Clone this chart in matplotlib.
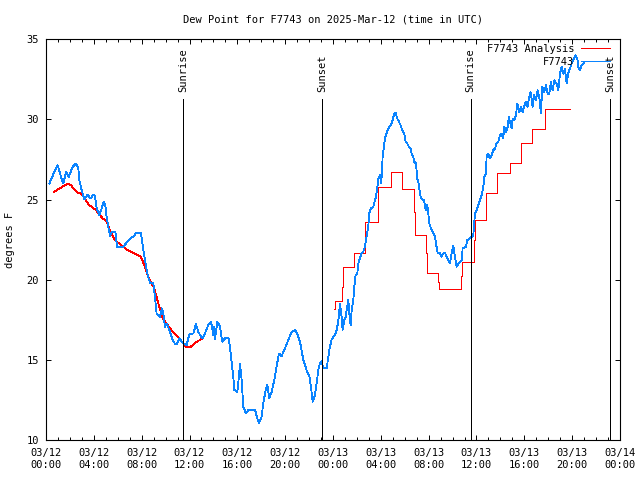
import matplotlib
matplotlib.use("Agg")
import matplotlib.pyplot as plt
import numpy as np

# ---------------- data (hours since 03/12 00:00 UTC) ----------------
blue_t = [0.28, 0.70, 0.98, 1.25, 1.45, 1.67, 1.90, 2.23, 2.51, 2.70,
          2.79, 2.98, 3.21, 3.48, 3.71, 3.99, 4.10, 4.24, 4.46, 4.65,
          4.82, 4.96, 5.07, 5.21, 5.35, 5.49, 5.80, 5.94, 6.41, 6.69,
          7.11, 7.39, 7.53, 7.94, 8.08, 8.28, 8.50, 8.70, 8.97, 9.11,
          9.25, 9.53, 9.70, 9.81, 9.95, 10.09, 10.31, 10.54, 10.79, 10.95,
          11.15, 11.43, 11.76, 11.98, 12.32, 12.54, 12.74, 12.93, 13.10, 13.29,
          13.57, 13.80, 13.99, 14.07, 14.13, 14.33, 14.55, 14.74, 14.97, 15.25,
          15.38, 15.52, 15.66, 15.75, 16.00, 16.17, 16.22, 16.36, 16.50, 16.72,
          16.92, 17.47, 17.67, 17.81, 18.03, 18.17, 18.36, 18.51, 18.67, 18.87,
          19.09, 19.28, 19.48, 19.70, 19.98, 20.26, 20.54, 20.82, 21.01, 21.24,
          21.52, 21.79, 22.02, 22.19, 22.30, 22.49, 22.63, 22.77, 22.91, 23.05,
          23.19, 23.47, 23.69, 23.89, 24.16, 24.30, 24.44, 24.50, 24.58, 24.72,
          24.80, 24.94, 25.06, 25.14, 25.28, 25.36, 25.47, 25.56, 25.70, 25.78,
          25.89, 26.03, 26.12, 26.25, 26.39, 26.53, 26.67, 26.81, 26.95, 27.03,
          27.17, 27.37, 27.51, 27.59, 27.70, 27.79, 27.93, 28.01, 28.07, 28.15,
          28.26, 28.34, 28.62, 28.90, 29.13, 29.24, 29.38, 29.52, 29.65, 29.79,
          29.96, 30.07, 30.21, 30.35, 30.49, 30.57, 30.71, 30.80, 30.94, 31.05,
          31.13, 31.22, 31.35, 31.61, 31.75, 31.88, 31.97, 32.05, 32.19, 32.39,
          32.53, 32.61, 32.75, 32.94, 33.08, 33.22, 33.36, 33.64, 33.78, 33.92,
          34.06, 34.20, 34.34, 34.48, 34.76, 34.84, 35.12, 35.23, 35.45, 35.59,
          35.73, 35.81, 35.87, 36.01, 36.15, 36.29, 36.43, 36.57, 36.65, 36.79,
          36.85, 36.98, 37.12, 37.26, 37.40, 37.54, 37.68, 37.82, 37.96, 38.10,
          38.24, 38.32, 38.46, 38.60, 38.71, 38.80, 38.94, 39.02, 39.16, 39.30,
          39.41, 39.58, 39.72, 39.86, 39.97, 40.11, 40.27, 40.38, 40.52, 40.61,
          40.69, 40.80, 40.97, 41.11, 41.25, 41.39, 41.50, 41.67, 41.81, 41.95,
          42.09, 42.22, 42.36, 42.50, 42.70, 42.84, 42.98, 43.12, 43.26, 43.39,
          43.54, 43.67, 43.81, 43.95, 44.09, 44.29, 44.43, 44.51, 44.65, 44.79,
          44.98]
blue_v = [26.0, 26.73, 27.14, 26.42, 26.0, 26.73, 26.42, 27.04, 27.25, 26.94,
          26.21, 25.59, 25.0, 25.32, 25.07, 25.32, 25.17, 24.44, 24.03, 24.44,
          24.86, 24.65, 23.92, 23.30, 22.72, 22.99, 23.0, 22.05, 22.03, 22.26,
          22.63, 22.72, 22.93, 22.9, 22.16, 21.22, 20.29, 19.81, 19.77, 18.94,
          17.90, 17.69, 18.21, 17.90, 17.07, 17.27, 16.86, 16.34, 15.99, 16.0,
          16.34, 16.07, 15.92, 16.59, 16.65, 17.23, 16.75, 16.48, 16.34, 16.65,
          17.17, 17.38, 16.55, 17.07, 16.28, 17.38, 17.07, 16.13, 16.34, 16.40,
          15.82, 14.88, 13.95, 13.12, 13.01, 14.26, 14.78, 13.74, 12.08, 11.66,
          11.87, 11.9, 11.35, 11.04, 11.45, 12.29, 13.08, 13.43, 12.60, 13.01,
          13.74, 14.57, 15.40, 15.24, 15.71, 16.23, 16.75, 16.86, 16.65, 16.13,
          14.99, 14.36, 13.99, 13.12, 12.39, 12.81, 13.53, 14.36, 14.78, 14.93,
          14.47, 14.47, 15.61, 16.28, 16.55, 16.86, 17.38, 17.90, 18.52, 17.69,
          16.86, 17.48, 17.69, 18.10, 18.73, 17.90, 17.17, 18.10, 18.73, 19.56,
          20.29, 20.39, 21.01, 21.33, 21.64, 21.74, 22.05, 22.68, 23.30, 24.13,
          24.44, 24.55, 24.96, 25.17, 25.69, 26.31, 26.52, 26.0, 26.42, 27.66,
          28.29, 28.81, 29.43, 29.74, 30.37, 30.41, 30.05, 29.85, 29.64, 29.33,
          29.12, 28.60, 28.5, 28.29, 28.19, 27.87, 27.66, 27.35, 27.25, 26.31,
          26.11, 25.69, 25.07, 24.97, 24.34, 24.65, 24.13, 23.51, 23.20, 22.88,
          22.68, 22.26, 21.68, 21.68, 21.43, 21.64, 21.68, 21.22, 21.01, 21.64,
          22.14, 21.43, 20.81, 21.01, 21.22, 21.95, 22.05, 22.47, 22.57, 22.68,
          22.78, 23.51, 24.13, 24.34, 24.65, 24.96, 25.27, 25.79, 26.42, 26.63,
          27.77, 27.87, 27.56, 27.77, 28.08, 28.18, 28.50, 28.60, 29.01, 29.12,
          28.81, 29.53, 29.22, 29.53, 30.16, 29.84, 29.43, 30.05, 29.95, 30.26,
          30.99, 30.47, 30.78, 30.47, 30.78, 31.09, 30.78, 31.30, 31.72, 31.30,
          30.78, 31.51, 31.20, 31.82, 31.40, 30.37, 32.03, 31.72, 32.13, 31.61,
          31.61, 32.34, 31.82, 32.44, 32.24, 31.82, 32.86, 33.28, 32.86, 33.17,
          32.24, 32.86, 33.17, 33.48, 33.69, 34.0, 33.80, 33.28, 33.07, 33.38,
          33.52]

# Analysis, first part (smooth)
red1_t = [0.70, 1.25, 1.81, 2.09, 2.37, 2.65, 2.93, 3.34, 3.62, 4.18,
          4.74, 5.02, 5.35, 5.77, 6.27, 6.83, 7.53, 7.94, 8.28, 8.64,
          9.06, 9.39, 9.75, 10.17, 10.59, 11.15, 11.59, 11.76, 12.04, 12.60,
          13.02]
red1_v = [25.48, 25.75, 26.0, 25.9, 25.63, 25.42, 25.38, 24.96, 24.65, 24.34,
          23.82, 23.72, 23.09, 22.47, 22.16, 21.85, 21.60, 21.43, 20.77, 20.02,
          19.46, 18.52, 17.59, 17.17, 16.75, 16.34, 15.92, 15.78, 15.78, 16.13,
          16.30]
# Analysis, second part (hourly steps)
red2_t = [24.11, 24.20, 24.72, 24.80, 25.78, 26.67, 27.79, 28.82, 29.79, 30.78,
          30.82, 31.78, 31.83, 32.80, 32.86, 34.72, 34.76, 35.79, 35.85, 36.77,
          37.74, 38.77, 39.69, 40.67, 41.70, 43.81]
red2_v = [18.2, 18.65, 19.56, 20.8, 21.65, 23.61, 25.79, 26.73, 25.69, 24.2,
          22.78, 21.64, 20.39, 19.87, 19.39, 20.22, 21.08, 22.47, 23.72, 25.42,
          26.63, 27.29, 28.54, 29.43, 30.68, 30.68]

sun_t = [11.48, 23.10, 35.51, 47.18]
sun_lbl = ["Sunrise", "Sunset", "Sunrise", "Sunset"]

xtick_hours = list(range(0, 49, 4))
xtick_lbl = ["03/12\n00:00", "03/12\n04:00", "03/12\n08:00", "03/12\n12:00",
             "03/12\n16:00", "03/12\n20:00", "03/13\n00:00", "03/13\n04:00",
             "03/13\n08:00", "03/13\n12:00", "03/13\n16:00", "03/13\n20:00",
             "03/14\n00:00"]
ytick_vals = [10, 15, 20, 25, 30, 35]

# ---------------- plot ----------------
FONT = "DejaVu Sans Mono"
FS = 7.5
plt.rcParams["font.family"] = FONT
plt.rcParams["font.size"] = FS

fig = plt.figure(figsize=(6.4, 4.8), dpi=100)
ax = fig.add_axes([46/640, 1-440/480, (620-46)/640, (440-39.3)/480])

RED = "#ff0000"
BLUE = "#0a84ff"
LW = 0.6

ax.plot(red1_t, red1_v, color=RED, lw=LW, antialiased=False, label="F7743 Analysis")
ax.plot(red2_t, red2_v, color=RED, lw=LW, antialiased=False, drawstyle="steps-post")
ax.plot(blue_t, blue_v, color=BLUE, lw=LW, antialiased=False, label="F7743")

ax.set_xlim(0, 48)
ax.set_ylim(10, 35)

line_top = 31.25
for t, lbl in zip(sun_t, sun_lbl):
    ax.plot([t, t], [10, line_top], color="black", lw=LW, antialiased=False)
    ax.text(t, line_top + 0.45, lbl, rotation=90, ha="center", va="bottom",
            fontsize=FS, family=FONT)

ax.set_xticks(xtick_hours)
ax.set_xticklabels(xtick_lbl)
ax.set_xticks(range(0, 49), minor=True)
ax.set_yticks(ytick_vals)
ax.set_yticklabels([str(v) for v in ytick_vals])

ax.tick_params(which="major", direction="in", length=3.8, width=0.7,
               top=True, right=True, pad=5, labelsize=FS)
ax.tick_params(which="minor", direction="in", length=2.0, width=0.7,
               top=True, right=True)
ax.tick_params(axis="x", which="major", pad=6)
for s in ax.spines.values():
    s.set_linewidth(0.8)

ax.set_ylabel("degrees F", fontsize=FS, labelpad=8)
ax.set_title("Dew Point for F7743 on 2025-Mar-12 (time in UTC)", fontsize=FS, pad=12)

leg = ax.legend(loc="upper right", bbox_to_anchor=((610 - 46) / 574, (440 - 44) / 400.7),
                frameon=False, markerfirst=False,
                handlelength=2.8, handletextpad=0.65, borderpad=0.0,
                borderaxespad=0.0, labelspacing=0.3, fontsize=FS)
for h in leg.legend_handles:
    h.set_antialiased(False)

fig.savefig("out.png", dpi=100)
